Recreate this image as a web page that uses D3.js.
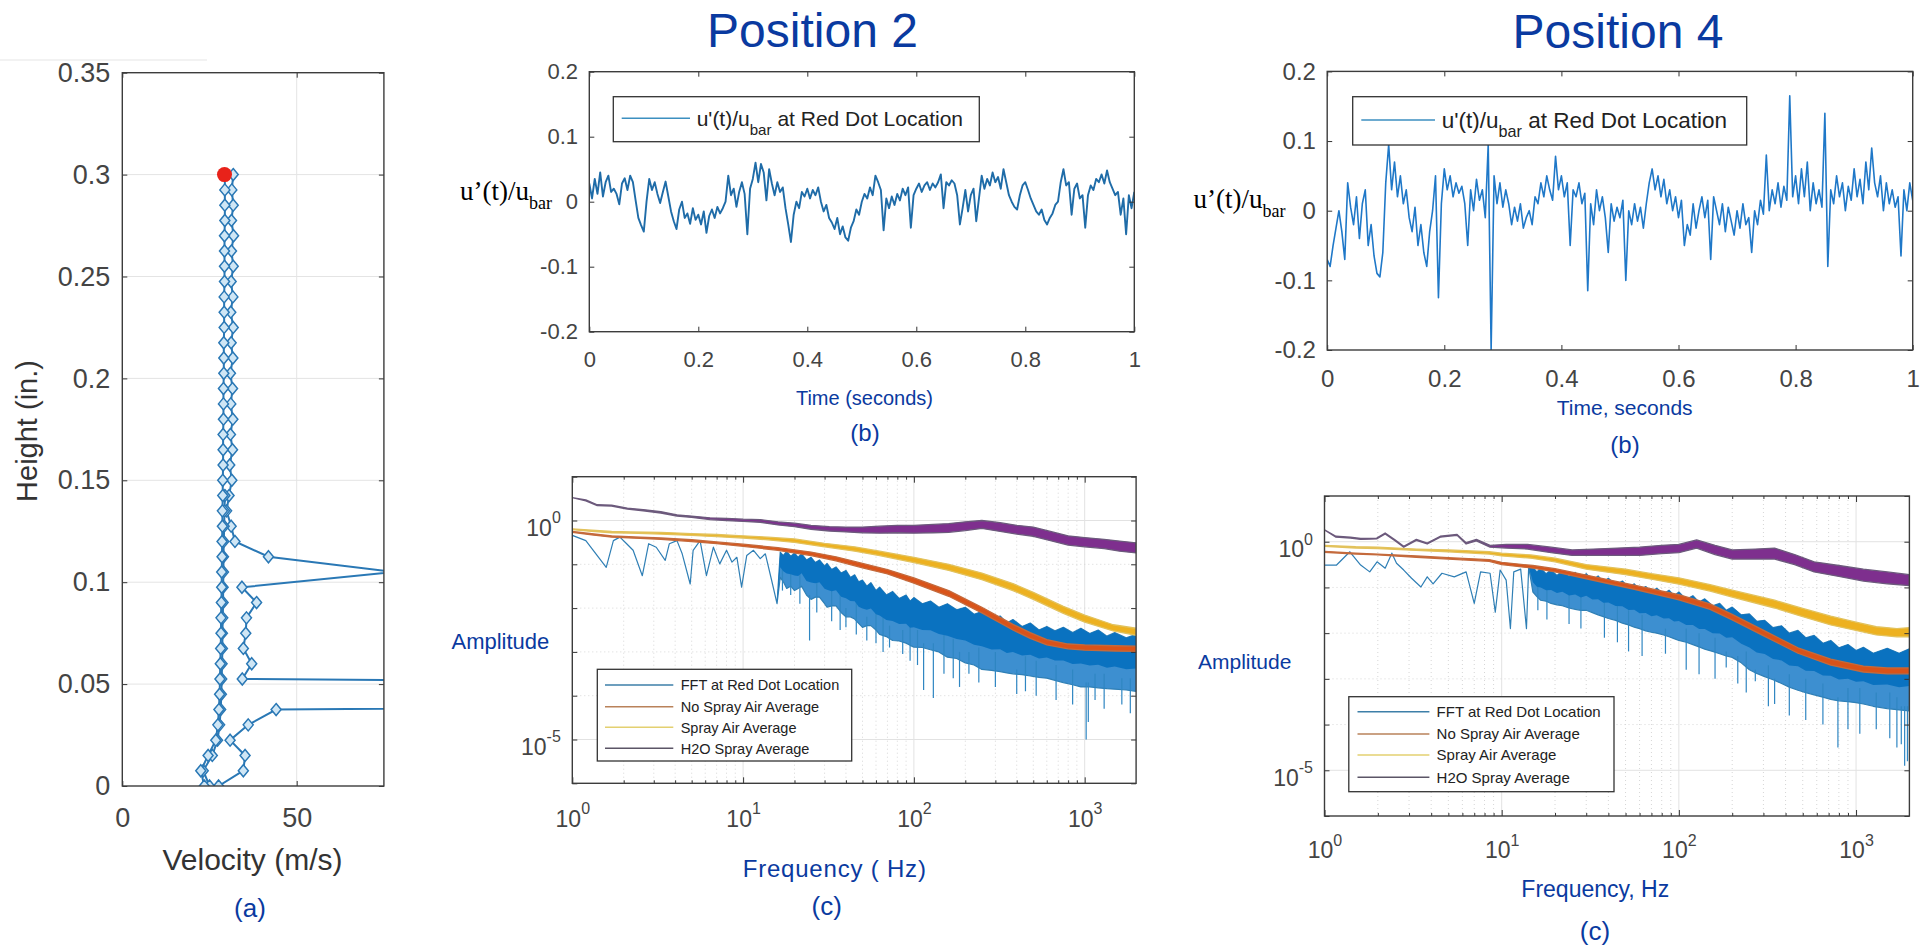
<!DOCTYPE html>
<html>
<head>
<meta charset="utf-8">
<script src="https://d3js.org/d3.v7.min.js"></script>
<style>
  body { margin: 0; background: #fff; }
  svg { display: block; }
</style>
</head>
<body>
<svg id="fig" width="1932" height="950"></svg>
<script>
const svg = d3.select("#fig");
const SANS = "Liberation Sans, Arial, sans-serif";
const SERIF = "Liberation Serif, Times New Roman, serif";
const BLUE_TEXT = "#0a3aa0";
const FRAME = "#3c3c3c";
const TICK_TEXT = "#444";

// ---------- (a) velocity profile ----------
const profileHeights = [0, 0.0075, 0.015, 0.0225, 0.03, 0.0375, 0.045, 0.0525, 0.06, 0.0675,
  0.075, 0.0825, 0.09, 0.0975, 0.105, 0.1125, 0.12, 0.1275, 0.135, 0.1425,
  0.15, 0.1575, 0.165, 0.1725, 0.18, 0.1875, 0.195, 0.2025, 0.21, 0.2175,
  0.225, 0.2325, 0.24, 0.2475, 0.255, 0.2625, 0.27, 0.2775, 0.285, 0.2925, 0.3];
const profileVelA = [23.5, 22.5, 24.6, 26.8, 27.4, 27.7, 27.9, 28.0, 28.1, 28.2,
  28.3, 28.3, 28.4, 28.5, 28.5, 28.6, 28.6, 28.7, 28.7, 28.8,
  28.8, 28.9, 28.9, 28.9, 29.0, 29.0, 29.0, 29.1, 29.1, 29.1,
  29.2, 29.2, 29.2, 29.3, 29.3, 29.3, 29.3, 29.4, 29.4, 29.4, 29.4];
const profileVelB = [27.6, 34.7, 35.2, 30.9, 36.1, 44.1, 600, 34.4, 37.1, 34.7,
  35.4, 35.6, 38.5, 34.3, 78, 41.9, 32.3, 31.2, 29.9, 30.6,
  31.4, 30.8, 31.6, 31.0, 31.7, 31.1, 31.6, 31.0, 31.7, 31.2,
  31.8, 31.1, 31.7, 31.2, 31.8, 31.3, 31.9, 31.3, 31.8, 31.4, 31.8];
const profileVelC = [25.0, 23.2, 25.8, 27.3, 27.9, 28.2, 28.4, 28.5, 28.6, 28.7,
  28.7, 28.8, 28.9, 28.9, 29.0, 29.0, 29.1, 29.2, 29.3, 29.4];
const redDot = [29.3, 0.3];
const aYTicks = [0, 0.05, 0.1, 0.15, 0.2, 0.25, 0.3, 0.35];
const aYLabels = ["0", "0.05", "0.1", "0.15", "0.2", "0.25", "0.3", "0.35"];
const aXTicks = [0, 50];
const aXLabels = ["0", "50"];

// ---------- (b) time signals, one sample every 5 ms ----------
const timeStep = 0.005;
const p2Signal = [
  0.028, 0.005, 0.035, 0.012, 0.045, 0.008, 0.030, 0.040, 0.015, 0.020,
  0.012, -0.004, 0.028, 0.036, 0.018, 0.040, 0.030, 0.002, -0.025, -0.036,
  -0.046, 0.000, 0.035, 0.018, 0.030, 0.012, -0.002, 0.015, 0.031, 0.008,
  -0.015, -0.030, -0.042, -0.012, 0.000, -0.025, -0.018, -0.034, -0.010, -0.028,
  -0.020, -0.035, -0.015, -0.048, -0.022, -0.012, -0.025, -0.008, -0.018, -0.010,
  0.000, 0.040, 0.010, 0.020, -0.008, 0.015, 0.030, 0.012, -0.050, 0.020,
  0.035, 0.060, 0.030, 0.058, 0.045, 0.002, 0.050, 0.028, 0.010, 0.030,
  0.015, 0.022, -0.010, -0.035, -0.062, -0.020, 0.000, -0.010, 0.015, 0.008,
  0.020, 0.005, 0.018, 0.010, 0.022, 0.000, -0.015, -0.005, -0.025, -0.032,
  -0.042, -0.025, -0.050, -0.038, -0.055, -0.060, -0.040, -0.030, -0.012, -0.020,
  0.000, 0.012, 0.005, 0.022, 0.010, 0.040, 0.030, 0.018, -0.044, 0.005,
  -0.010, 0.008, -0.005, 0.012, 0.002, 0.020, 0.010, 0.022, -0.040, 0.010,
  0.020, 0.028, 0.015, 0.025, 0.030, 0.018, 0.028, 0.022, 0.030, 0.042,
  -0.010, 0.030, 0.025, 0.033, 0.028, 0.010, -0.035, -0.010, 0.018, -0.015,
  0.010, 0.020, -0.030, 0.005, 0.040, 0.020, 0.035, 0.025, 0.045, 0.030,
  0.038, 0.020, 0.050, 0.030, 0.010, 0.000, -0.008, -0.012, 0.010, 0.025,
  0.030, 0.018, 0.005, -0.005, -0.015, -0.020, -0.012, -0.028, -0.035, -0.025,
  -0.018, -0.005, 0.000, 0.030, 0.050, 0.025, 0.030, -0.020, 0.020, 0.028,
  0.005, 0.010, -0.040, 0.010, 0.025, 0.018, 0.035, 0.030, 0.042, 0.028,
  0.048, 0.030, 0.020, 0.010, 0.015, -0.020, 0.005, -0.050, 0.010, -0.010,
  0.015];
const p4Signal = [
  -0.070, -0.080, -0.050, -0.025, 0.000, -0.030, -0.070, 0.040, 0.005, -0.020,
  0.020, -0.040, 0.010, 0.030, -0.050, -0.020, -0.065, -0.090, -0.095, -0.060,
  0.040, 0.095, 0.030, 0.070, 0.020, 0.050, 0.010, 0.030, -0.010, -0.030,
  0.005, -0.050, -0.020, -0.060, -0.080, -0.030, 0.000, 0.050, -0.125, 0.010,
  0.060, 0.030, 0.050, 0.020, 0.040, 0.025, 0.035, 0.010, -0.050, 0.030,
  0.000, 0.045, 0.015, 0.030, -0.010, 0.095, -0.200, 0.050, 0.010, 0.040,
  0.005, 0.030, 0.010, -0.020, 0.005, -0.015, 0.010, -0.025, -0.010, 0.000,
  -0.020, 0.020, 0.010, 0.040, 0.020, 0.050, 0.030, 0.015, 0.078, 0.030,
  0.050, 0.020, 0.040, -0.050, 0.030, 0.020, 0.040, 0.010, 0.025, -0.115,
  0.010, -0.020, 0.030, 0.000, 0.020, -0.010, -0.060, 0.010, -0.015, 0.005,
  -0.010, 0.015, -0.100, 0.000, -0.020, 0.010, -0.015, 0.005, -0.025, 0.010,
  0.040, 0.060, 0.030, 0.050, 0.020, 0.045, 0.010, 0.030, 0.000, 0.020,
  -0.010, 0.015, -0.050, -0.020, -0.035, 0.010, -0.025, 0.000, 0.020, -0.010,
  0.015, -0.070, 0.020, 0.000, -0.020, 0.010, -0.030, 0.005, -0.015, -0.035,
  0.000, -0.025, 0.010, -0.020, -0.010, -0.060, 0.000, -0.020, 0.015, -0.005,
  0.080, 0.000, 0.030, 0.010, 0.040, 0.005, 0.035, 0.015, 0.165, 0.020,
  0.050, 0.010, 0.060, 0.020, 0.070, 0.000, 0.040, 0.010, 0.030, 0.005,
  0.140, -0.080, 0.030, 0.010, 0.050, 0.020, 0.040, 0.000, 0.035, 0.015,
  0.060, 0.020, 0.045, 0.010, 0.070, 0.030, 0.090, 0.040, 0.020, 0.050,
  0.000, 0.040, 0.010, 0.030, 0.005, 0.020, -0.065, 0.030, 0.000, 0.040,
  0.015];
const tTicks = [0, 0.2, 0.4, 0.6, 0.8, 1];
const tLabels = ["0", "0.2", "0.4", "0.6", "0.8", "1"];
const uTicks = [-0.2, -0.1, 0, 0.1, 0.2];
const uLabels = ["-0.2", "-0.1", "0", "0.1", "0.2"];

// ---------- (c) spectra: [frequency Hz, low log10(A), high log10(A)] ----------
const spectrumNames = ["FFT at Red Dot Location", "No Spray Air Average", "Spray Air Average", "H2O Spray Average"];
const spectrumFill = ["#0a72c0", "#d95319", "#edb120", "#7e2f8e"];
const spectrumEdge = ["#2f7fb5", "#c46a3c", "#e2c25c", "#6c5a7c"];
const legendLine = ["#3d7fa8", "#b9825a", "#e3d070", "#5b5566"];

const p2Fft = [
  [1, -0.34, -0.34], [1.2, -0.46, -0.46], [1.4, -0.8, -0.8], [1.58, -1.07, -1.07], [1.74, -0.46, -0.46],
  [1.9, -0.38, -0.38], [2.08, -0.53, -0.53], [2.27, -0.68, -0.68], [2.57, -1.26, -1.26], [2.8, -0.53, -0.53],
  [3.1, -0.61, -0.61], [3.5, -0.91, -0.91], [3.7, -0.53, -0.53], [4.1, -0.46, -0.46], [4.4, -0.76, -0.76],
  [4.9, -1.45, -1.45], [5.1, -0.68, -0.68], [5.6, -0.46, -0.46], [6.1, -1.26, -1.26], [6.7, -0.61, -0.61],
  [7.3, -0.99, -0.99], [8, -0.68, -0.68], [8.6, -0.95, -0.95], [9.2, -0.84, -0.84], [9.8, -1.52, -1.52],
  [10.5, -0.8, -0.8], [11.5, -0.68, -0.68], [12.6, -0.87, -0.87], [13.5, -0.76, -0.76], [14.7, -1.37, -1.37],
  [15.8, -1.9, -1.9], [16.5, -1.3, -0.72], [17.2, -1.4, -0.80], [18, -1.55, -0.70], [19, -1.5, -0.82],
  [20, -1.6, -0.74], [21, -1.55, -0.84], [22, -1.5, -0.76], [23.5, -1.7, -0.90], [25, -1.8, -0.84],
  [26.5, -1.75, -0.96], [28, -1.75, -0.90], [30, -1.9, -1.04], [31, -1.98, -0.98], [33, -1.95, -1.12],
  [35, -1.95, -1.06], [37.5, -2.1, -1.20], [40, -2.2, -1.14], [42.5, -2.2, -1.30], [45, -2.25, -1.24],
  [47.5, -2.35, -1.40], [50, -2.44, -1.36], [53, -2.4, -1.50], [56, -2.4, -1.42], [60, -2.5, -1.60],
  [63, -2.6, -1.52], [69, -2.65, -1.70], [75, -2.74, -1.62], [82, -2.75, -1.78], [90, -2.8, -1.70],
  [95, -2.85, -1.84], [100, -2.89, -1.76], [112, -2.9, -1.90], [125, -2.95, -1.84], [140, -3.0, -1.98],
  [157, -3.12, -1.90], [178, -3.15, -2.04], [200, -3.25, -1.98], [225, -3.3, -2.14], [250, -3.4, -2.08],
  [285, -3.42, -2.24], [320, -3.45, -2.18], [350, -3.48, -2.34], [380, -3.5, -2.26], [430, -3.52, -2.42],
  [480, -3.55, -2.34], [540, -3.58, -2.50], [600, -3.6, -2.42], [670, -3.65, -2.52], [750, -3.7, -2.44],
  [850, -3.75, -2.56], [950, -3.8, -2.46], [1070, -3.8, -2.58], [1200, -3.82, -2.50], [1350, -3.84, -2.64],
  [1500, -3.85, -2.56], [1750, -3.87, -2.68], [2000, -3.9, -2.60]];
const p2NoSpray = [
  [1, -0.27, -0.25], [1.3, -0.33, -0.30], [1.7, -0.38, -0.35], [2.5, -0.41, -0.38], [3.3, -0.43, -0.40],
  [5, -0.48, -0.44], [7, -0.53, -0.49], [10, -0.59, -0.54], [16, -0.68, -0.62], [25, -0.80, -0.72],
  [35, -0.92, -0.83], [50, -1.08, -0.98], [70, -1.22, -1.12], [100, -1.43, -1.31], [160, -1.73, -1.60],
  [250, -2.11, -1.98], [380, -2.50, -2.37], [480, -2.69, -2.56], [600, -2.84, -2.72], [800, -2.93, -2.82],
  [1000, -2.96, -2.84], [1500, -2.98, -2.86], [2000, -2.99, -2.87]];
const p2Spray = [
  [1, -0.21, -0.19], [1.3, -0.25, -0.22], [1.7, -0.28, -0.25], [2.2, -0.29, -0.26], [3.3, -0.31, -0.27],
  [5, -0.34, -0.30], [7, -0.37, -0.32], [10, -0.40, -0.35], [14, -0.44, -0.38], [20, -0.50, -0.42],
  [30, -0.60, -0.52], [45, -0.70, -0.60], [63, -0.80, -0.70], [100, -0.96, -0.84], [160, -1.14, -1.00],
  [250, -1.35, -1.20], [380, -1.60, -1.44], [500, -1.80, -1.64], [750, -2.12, -1.96], [1000, -2.32, -2.16],
  [1470, -2.52, -2.38], [2000, -2.62, -2.46]];
const p2H2o = [
  [1, 0.52, 0.52], [1.2, 0.45, 0.47], [1.4, 0.34, 0.36], [1.7, 0.33, 0.35], [2.1, 0.26, 0.28],
  [2.6, 0.22, 0.25], [3.3, 0.17, 0.20], [4.1, 0.10, 0.13], [5, 0.07, 0.10], [6.4, 0.02, 0.06],
  [8, 0.00, 0.05], [10, -0.02, 0.03], [12.6, -0.04, 0.02], [16, -0.10, -0.03], [20, -0.14, -0.06],
  [25, -0.20, -0.11], [32, -0.24, -0.14], [40, -0.26, -0.15], [50, -0.28, -0.15], [63, -0.29, -0.13],
  [80, -0.28, -0.11], [100, -0.29, -0.11], [130, -0.28, -0.09], [160, -0.27, -0.07], [200, -0.23, -0.03],
  [250, -0.18, 0.00], [320, -0.25, -0.05], [400, -0.31, -0.11], [500, -0.36, -0.15], [630, -0.46, -0.25],
  [800, -0.56, -0.35], [1000, -0.60, -0.39], [1300, -0.64, -0.43], [1600, -0.70, -0.47], [2000, -0.74, -0.51]];
// downward spikes of the FFT: [frequency, from, to]
const p2Spikes = [[17, -1.0, -1.6], [19, -1.1, -1.7], [21.5, -1.2, -1.9], [24.5, -1.7, -2.74], [27, -1.3, -2.1],
  [33, -1.5, -2.3], [37, -1.6, -2.5], [40, -2.0, -2.44], [46, -1.8, -2.6], [53, -2.2, -2.74], [60, -2.0, -2.8],
  [66, -2.1, -3.0], [72, -2.4, -2.9], [86, -2.5, -3.05], [95, -2.4, -3.2], [105, -2.5, -3.3], [114, -2.8, -3.87],
  [130, -2.8, -4.05], [150, -2.6, -3.5], [170, -2.7, -3.6], [185, -3.0, -3.8], [210, -3.0, -3.5], [240, -2.9, -3.7],
  [300, -3.0, -3.8], [400, -3.4, -3.96], [450, -3.1, -3.9], [520, -3.2, -4.0], [680, -3.3, -4.1], [850, -3.4, -4.2],
  [1020, -3.7, -5.0], [1050, -3.7, -4.6], [1150, -3.5, -4.1], [1300, -3.5, -4.3], [1650, -3.6, -4.2], [1850, -3.6, -4.4]];

const p4Fft = [
  [1, -0.51, -0.51], [1.17, -0.51, -0.51], [1.39, -0.22, -0.22], [1.6, -0.51, -0.51], [1.8, -0.66, -0.66],
  [1.98, -0.44, -0.44], [2.2, -0.58, -0.58], [2.4, -0.25, -0.25], [2.55, -0.47, -0.47], [2.8, -0.62, -0.62],
  [3.1, -0.8, -0.8], [3.5, -0.99, -0.99], [3.8, -0.77, -0.77], [4.1, -0.92, -0.92], [4.6, -0.69, -0.69],
  [5.4, -0.77, -0.77], [6.3, -0.66, -0.66], [7.0, -1.35, -1.35], [7.6, -0.66, -0.66], [8.6, -0.69, -0.69],
  [9.2, -1.54, -1.54], [9.8, -0.62, -0.62], [10.6, -0.84, -0.84], [11.2, -1.9, -1.9], [11.7, -0.66, -0.66],
  [12.8, -0.6, -0.6], [13.8, -1.9, -1.9], [14.2, -0.55, -0.55], [15, -1.1, -0.56], [15.8, -1.2, -0.66],
  [16.6, -1.28, -0.58], [17.8, -1.3, -0.70], [19, -1.35, -0.62], [20.5, -1.38, -0.74], [22, -1.4, -0.64],
  [24, -1.45, -0.76], [26, -1.48, -0.67], [28, -1.5, -0.80], [30, -1.5, -0.70], [32.5, -1.55, -0.84],
  [35, -1.6, -0.75], [37.5, -1.64, -0.88], [40, -1.68, -0.80], [44, -1.72, -0.94], [48, -1.78, -0.86],
  [52, -1.82, -1.00], [56, -1.87, -0.92], [60, -1.9, -1.06], [65, -1.95, -0.98], [70, -1.98, -1.10],
  [75, -2.0, -1.02], [82, -2.04, -1.14], [88, -2.08, -1.06], [94, -2.12, -1.18], [100, -2.16, -1.10],
  [110, -2.2, -1.26], [120, -2.25, -1.18], [130, -2.3, -1.32], [140, -2.35, -1.25], [155, -2.4, -1.40],
  [170, -2.45, -1.35], [185, -2.5, -1.50], [200, -2.53, -1.43], [225, -2.65, -1.60], [250, -2.8, -1.58],
  [275, -2.88, -1.74], [305, -2.95, -1.72], [340, -3.02, -1.88], [380, -3.1, -1.84], [420, -3.18, -2.00],
  [470, -3.25, -1.94], [520, -3.3, -2.10], [580, -3.35, -2.05], [650, -3.4, -2.22], [720, -3.45, -2.16],
  [800, -3.48, -2.32], [900, -3.5, -2.25], [1000, -3.52, -2.38], [1100, -3.55, -2.31], [1250, -3.6, -2.44],
  [1500, -3.65, -2.33], [1750, -3.68, -2.44], [2000, -3.7, -2.34]];
const p4NoSpray = [
  [1, -0.23, -0.21], [1.5, -0.27, -0.25], [2, -0.29, -0.27], [3.3, -0.34, -0.31], [5, -0.38, -0.35],
  [8.5, -0.43, -0.39], [10, -0.50, -0.45], [15, -0.58, -0.52], [20, -0.66, -0.59], [30, -0.81, -0.73],
  [56, -1.04, -0.95], [100, -1.27, -1.16], [150, -1.48, -1.36], [200, -1.71, -1.59], [305, -2.07, -1.95],
  [470, -2.44, -2.32], [720, -2.70, -2.57], [1100, -2.85, -2.72], [1500, -2.89, -2.76], [2000, -2.89, -2.76]];
const p4Spray = [
  [1, -0.10, -0.08], [1.5, -0.14, -0.11], [2, -0.15, -0.12], [3.3, -0.19, -0.16], [5, -0.22, -0.18],
  [8.5, -0.27, -0.22], [10, -0.31, -0.25], [14.6, -0.36, -0.29], [20, -0.44, -0.36], [30, -0.60, -0.50],
  [50, -0.72, -0.60], [70, -0.82, -0.70], [100, -0.93, -0.79], [150, -1.08, -0.94], [200, -1.21, -1.06],
  [347, -1.45, -1.28], [500, -1.64, -1.46], [720, -1.82, -1.63], [1000, -1.94, -1.76], [1300, -2.04, -1.86],
  [1700, -2.08, -1.90], [2000, -2.08, -1.88]];
const p4H2o = [
  [1, 0.26, 0.26], [1.16, 0.10, 0.12], [1.4, 0.08, 0.10], [1.6, 0.05, 0.07], [1.97, 0.06, 0.08],
  [2.2, 0.17, 0.19], [2.5, 0.02, 0.04], [2.8, -0.12, -0.10], [3.3, 0.03, 0.05], [3.8, -0.05, -0.03],
  [4.5, 0.10, 0.12], [5.6, 0.14, 0.16], [6.3, -0.05, -0.02], [7.2, 0.02, 0.05], [8.6, -0.12, -0.08],
  [10.6, -0.14, -0.06], [14, -0.16, -0.06], [19, -0.24, -0.12], [25, -0.30, -0.18], [33, -0.30, -0.16],
  [45, -0.30, -0.14], [60, -0.30, -0.12], [80, -0.26, -0.08], [100, -0.24, -0.06], [126, -0.14, 0.04],
  [160, -0.28, -0.08], [200, -0.38, -0.18], [270, -0.38, -0.16], [347, -0.38, -0.14], [450, -0.50, -0.28],
  [580, -0.66, -0.44], [800, -0.76, -0.52], [1100, -0.86, -0.60], [1500, -0.92, -0.66], [2000, -0.96, -0.72]];
const p4Spikes = [[16, -0.9, -1.5], [18, -1.0, -1.7], [24, -1.1, -1.8], [28, -1.2, -1.9], [38, -1.3, -2.1],
  [45, -1.4, -2.2], [52, -1.5, -2.4], [62, -1.6, -2.5], [84, -1.9, -2.45], [110, -1.9, -2.8], [130, -2.0, -2.9],
  [160, -2.1, -3.0], [185, -2.4, -2.75], [215, -2.5, -3.1], [240, -2.4, -3.3], [270, -2.8, -3.05],
  [320, -2.7, -3.6], [347, -3.0, -3.55], [420, -2.9, -3.8], [520, -3.0, -3.9], [650, -3.1, -4.0],
  [790, -3.4, -4.5], [900, -3.2, -4.1], [1050, -3.2, -4.2], [1300, -3.3, -4.1], [1550, -3.3, -4.3],
  [1700, -3.4, -4.5], [1800, -3.6, -4.43], [1880, -3.6, -4.9], [1950, -3.6, -4.8]];

const freqDecades = [1, 10, 100, 1000];
const ampDecades = [1e-6, 1e-5, 1e-4, 1e-3, 1e-2, 1e-1, 1e0, 1e1];
const ampLabelled = [1e-5, 1e0];

// ---------- helpers ----------
function styleAxis(sel, size, family) {
  sel.attr("font-size", size).attr("font-family", family || SANS).attr("color", "#333");
  sel.select(".domain").remove();
  sel.selectAll(".tick text").attr("fill", TICK_TEXT);
  sel.selectAll(".tick line").attr("stroke-width", 1);
}

function addText(x, y, str, o) {
  o = o || {};
  return svg.append("text")
    .attr("x", x).attr("y", y)
    .attr("font-family", o.family || SANS)
    .attr("font-size", o.size || 20)
    .attr("fill", o.color || BLUE_TEXT)
    .attr("text-anchor", o.anchor || "start")
    .text(str);
}

function frame(g, x0, y0, x1, y1) {
  g.append("rect").attr("x", x0).attr("y", y0).attr("width", x1 - x0).attr("height", y1 - y0)
    .attr("fill", "none").attr("stroke", FRAME).attr("stroke-width", 1.4);
}

function uBarLabel(x, y, size, subSize, drop) {
  const t = svg.append("text").attr("x", x).attr("y", y)
    .attr("font-family", SERIF).attr("font-size", size).attr("fill", "#000");
  t.append("tspan").text("u\u2019(t)/u");
  t.append("tspan").attr("dy", drop).attr("font-size", subSize).text("bar");
}

// ---------- (a) ----------
function drawProfile() {
  const x = d3.scaleLinear().domain([0, 75]).range([122.3, 383.9]);
  const y = d3.scaleLinear().domain([0, 0.35]).range([786, 72.7]);
  const g = svg.append("g");

  svg.append("line").attr("x1", 0).attr("x2", 207).attr("y1", 60).attr("y2", 60)
    .attr("stroke", "#e6e6e6").attr("stroke-width", 1.2);

  g.append("clipPath").attr("id", "clip-a").append("rect")
    .attr("x", x(0)).attr("y", y(0.35)).attr("width", x(75) - x(0)).attr("height", y(0) - y(0.35));

  g.selectAll(".hgrid").data(aYTicks.slice(1, -1)).join("line")
    .attr("x1", x(0)).attr("x2", x(75)).attr("y1", d => y(d)).attr("y2", d => y(d))
    .attr("stroke", "#e4e4e4").attr("stroke-width", 1);
  g.append("line").attr("x1", x(50)).attr("x2", x(50)).attr("y1", y(0)).attr("y2", y(0.35))
    .attr("stroke", "#e4e4e4").attr("stroke-width", 1);

  const plot = g.append("g").attr("clip-path", "url(#clip-a)");
  const series = [
    profileVelB.map((v, i) => [v, profileHeights[i]]),
    profileVelC.map((v, i) => [v, profileHeights[i]]),
    profileVelA.map((v, i) => [v, profileHeights[i]])
  ];
  const line = d3.line().x(d => x(d[0])).y(d => y(d[1]));
  const diamond = "M0,-6L5,0L0,6L-5,0Z";
  series.forEach(pts => {
    plot.append("path").datum(pts).attr("d", line)
      .attr("fill", "none").attr("stroke", "#2a78b5").attr("stroke-width", 2);
    plot.selectAll(null).data(pts).join("path")
      .attr("d", diamond)
      .attr("transform", d => `translate(${x(d[0])},${y(d[1])})`)
      .attr("fill", "#cfe6f5").attr("stroke", "#2a78b5").attr("stroke-width", 1.5);
  });
  plot.append("circle").attr("cx", x(redDot[0])).attr("cy", y(redDot[1])).attr("r", 7.5)
    .attr("fill", "#e8221a");

  const fmtY = d => aYLabels[aYTicks.indexOf(d)];
  const fmtX = d => aXLabels[aXTicks.indexOf(d)];
  g.append("g").attr("transform", `translate(${x(0)},0)`)
    .call(d3.axisLeft(y).tickValues(aYTicks).tickFormat(fmtY).tickSize(-5).tickPadding(12))
    .call(s => styleAxis(s, 27));
  g.append("g").attr("transform", `translate(${x(75)},0)`)
    .call(d3.axisRight(y).tickValues(aYTicks).tickFormat("").tickSize(-5))
    .call(s => styleAxis(s, 27));
  g.append("g").attr("transform", `translate(0,${y(0)})`)
    .call(d3.axisBottom(x).tickValues(aXTicks).tickFormat(fmtX).tickSize(-5).tickPadding(21.5))
    .call(s => styleAxis(s, 27));
  g.append("g").attr("transform", `translate(0,${y(0.35)})`)
    .call(d3.axisTop(x).tickValues(aXTicks).tickFormat("").tickSize(-5))
    .call(s => styleAxis(s, 27));
  frame(g, x(0), y(0.35), x(75), y(0));

  addText(252.5, 870, "Velocity (m/s)", { size: 30, color: "#333", anchor: "middle" });
  addText(37, 431, "Height (in.)", { size: 29, color: "#333", anchor: "middle" })
    .attr("transform", "rotate(-90,37,431)");
  addText(250, 917, "(a)", { size: 26, anchor: "middle" });
}

// ---------- (b) ----------
function drawTimePanel(o) {
  const x = d3.scaleLinear().domain([0, 1]).range([o.left, o.right]);
  const y = d3.scaleLinear().domain([-0.2, 0.2]).range([o.bottom, o.top]);
  const g = svg.append("g");
  const cid = "clip-" + o.id;
  g.append("clipPath").attr("id", cid).append("rect")
    .attr("x", o.left).attr("y", o.top).attr("width", o.right - o.left).attr("height", o.bottom - o.top);

  const line = d3.line().x((d, i) => x(i * timeStep)).y(d => y(d));
  g.append("path").datum(o.values).attr("clip-path", `url(#${cid})`).attr("d", line)
    .attr("fill", "none").attr("stroke", o.color).attr("stroke-width", o.width).attr("stroke-linejoin", "round");

  const fmtT = d => tLabels[tTicks.indexOf(d)];
  const fmtU = d => uLabels[uTicks.indexOf(d)];
  g.append("g").attr("transform", `translate(${o.left},0)`)
    .call(d3.axisLeft(y).tickValues(uTicks).tickFormat(fmtU).tickSize(-5).tickPadding(11.3))
    .call(s => styleAxis(s, o.tickSize));
  g.append("g").attr("transform", `translate(${o.right},0)`)
    .call(d3.axisRight(y).tickValues(uTicks).tickFormat("").tickSize(-5))
    .call(s => styleAxis(s, o.tickSize));
  g.append("g").attr("transform", `translate(0,${o.bottom})`)
    .call(d3.axisBottom(x).tickValues(tTicks).tickFormat(fmtT).tickSize(-5).tickPadding(o.xPad))
    .call(s => styleAxis(s, o.tickSize));
  g.append("g").attr("transform", `translate(0,${o.top})`)
    .call(d3.axisTop(x).tickValues(tTicks).tickFormat("").tickSize(-5))
    .call(s => styleAxis(s, o.tickSize));
  frame(g, o.left, o.top, o.right, o.bottom);

  // legend
  const L = o.legend;
  g.append("rect").attr("x", L.x0).attr("y", L.y0).attr("width", L.x1 - L.x0).attr("height", L.y1 - L.y0)
    .attr("fill", "#fff").attr("stroke", "#333").attr("stroke-width", 1.3);
  g.append("line").attr("x1", L.s0).attr("x2", L.s1).attr("y1", L.sy).attr("y2", L.sy)
    .attr("stroke", "#3c8fc0").attr("stroke-width", 1.6);
  const t = g.append("text").attr("x", L.tx).attr("y", L.ty)
    .attr("font-family", SANS).attr("font-size", L.size).attr("fill", "#222");
  t.append("tspan").text("u'(t)/u");
  t.append("tspan").attr("dy", 9).attr("font-size", L.size * 0.72).text("bar");
  t.append("tspan").attr("dy", -9).text(" at Red Dot Location");
}

// ---------- (c) ----------
function drawSpectrumPanel(o) {
  const x = d3.scaleLog().domain([1, 2000]).range([o.left, o.right]);
  const y = d3.scaleLog().domain([1e-6, 10]).range([o.bottom, o.top]);
  const g = svg.append("g");
  const cid = "clip-" + o.id;
  g.append("clipPath").attr("id", cid).append("rect")
    .attr("x", o.left).attr("y", o.top).attr("width", o.right - o.left).attr("height", o.bottom - o.top);

  const minorF = x.ticks().filter(f => !freqDecades.includes(f) && f < 2000);
  g.selectAll(".vminor").data(minorF).join("line")
    .attr("x1", d => x(d)).attr("x2", d => x(d)).attr("y1", o.top).attr("y2", o.bottom)
    .attr("stroke", "#d6d6d6").attr("stroke-width", 1).attr("stroke-dasharray", "1,3");
  g.selectAll(".vmajor").data(freqDecades.slice(1)).join("line")
    .attr("x1", d => x(d)).attr("x2", d => x(d)).attr("y1", o.top).attr("y2", o.bottom)
    .attr("stroke", "#e2e2e2").attr("stroke-width", 1);
  g.selectAll(".hgrid").data(ampDecades.slice(1, -1)).join("line")
    .attr("x1", o.left).attr("x2", o.right).attr("y1", d => y(d)).attr("y2", d => y(d))
    .attr("stroke", d => ampLabelled.includes(d) ? "#e2e2e2" : "#d6d6d6")
    .attr("stroke-width", 1)
    .attr("stroke-dasharray", d => ampLabelled.includes(d) ? null : "1,3");

  const plot = g.append("g").attr("clip-path", `url(#${cid})`);
  const yExp = e => y(Math.pow(10, e));
  const area = d3.area().x(d => x(d[0])).y0(d => yExp(d[1])).y1(d => yExp(d[2]));
  // the dense core of a noisy band sits near its upper edge
  const coreArea = d3.area().x(d => x(d[0]))
    .y0(d => yExp(d[2] + 0.6 * (d[1] - d[2]))).y1(d => yExp(d[2]));
  o.series.forEach((rows, k) => {
    if (k === 0) {
      plot.append("path").datum(rows).attr("d", area)
        .attr("fill", "#3d8fd0").attr("stroke", spectrumEdge[0])
        .attr("stroke-width", 1.2).attr("stroke-linejoin", "round");
      plot.selectAll(null).data(o.spikes).join("line")
        .attr("x1", d => x(d[0])).attr("x2", d => x(d[0]))
        .attr("y1", d => yExp(d[1])).attr("y2", d => yExp(d[2]))
        .attr("stroke", "#2f86c2").attr("stroke-width", 1.2);
      plot.append("path").datum(rows).attr("d", coreArea)
        .attr("fill", spectrumFill[0]).attr("stroke", "none");
    } else {
      plot.append("path").datum(rows).attr("d", area)
        .attr("fill", spectrumFill[k]).attr("stroke", spectrumEdge[k])
        .attr("stroke-width", 1.3).attr("stroke-linejoin", "round");
    }
  });

  const supFormat = (sel, labelled, dyBase) => {
    sel.selectAll(".tick text").each(function (d) {
      const t = d3.select(this);
      t.text("");
      if (!labelled.includes(d)) return;
      t.attr("y", +t.attr("y") + dyBase);
      t.append("tspan").text("10");
      t.append("tspan").attr("dy", -12.5).attr("font-size", 16).text(Math.round(Math.log10(d)));
    });
  };
  g.append("g").attr("transform", `translate(${o.left},0)`)
    .call(d3.axisLeft(y).tickValues(ampDecades).tickSize(-5).tickPadding(11.5))
    .call(s => { styleAxis(s, 23); supFormat(s, ampLabelled, 7.5); });
  g.append("g").attr("transform", `translate(${o.right},0)`)
    .call(d3.axisRight(y).tickValues(ampDecades).tickFormat("").tickSize(-5))
    .call(s => styleAxis(s, 23));
  g.append("g").attr("transform", `translate(0,${o.bottom})`)
    .call(d3.axisBottom(x).tickValues(freqDecades).tickSize(-6).tickPadding(o.xPad))
    .call(s => { styleAxis(s, 23); supFormat(s, freqDecades, 0); });
  g.append("g").attr("transform", `translate(0,${o.bottom})`)
    .call(d3.axisBottom(x).tickValues(minorF).tickFormat("").tickSize(-3))
    .call(s => styleAxis(s, 23));
  g.append("g").attr("transform", `translate(0,${o.top})`)
    .call(d3.axisTop(x).tickValues(freqDecades).tickFormat("").tickSize(-6))
    .call(s => styleAxis(s, 23));
  g.append("g").attr("transform", `translate(0,${o.top})`)
    .call(d3.axisTop(x).tickValues(minorF).tickFormat("").tickSize(-3))
    .call(s => styleAxis(s, 23));
  frame(g, o.left, o.top, o.right, o.bottom);

  // legend
  const L = o.legend;
  g.append("rect").attr("x", L.x0).attr("y", L.y0).attr("width", L.x1 - L.x0).attr("height", L.y1 - L.y0)
    .attr("fill", "#fff").attr("stroke", "#333").attr("stroke-width", 1.3);
  spectrumNames.forEach((name, k) => {
    g.append("line").attr("x1", L.s0).attr("x2", L.s1).attr("y1", L.rows[k]).attr("y2", L.rows[k])
      .attr("stroke", legendLine[k]).attr("stroke-width", 1.5);
    g.append("text").attr("x", L.tx).attr("y", L.rows[k] + 5.3)
      .attr("font-family", SANS).attr("font-size", L.size).attr("fill", "#222").text(name);
  });
}

drawProfile();

// Position 2
addText(812.5, 46.7, "Position 2", { size: 48, anchor: "middle" });
drawTimePanel({
  id: "p2b", values: p2Signal, color: "#1f6ca8", width: 1.9,
  left: 589.3, right: 1134.3, top: 71.7, bottom: 331.7, tickSize: 22, xPad: 19.7,
  legend: { x0: 613.3, x1: 979.3, y0: 96.7, y1: 141.7, s0: 621.7, s1: 690, sy: 118.3, tx: 696.7, ty: 126, size: 21 }
});
uBarLabel(460, 200, 27, 18, 9);
addText(864.5, 405, "Time (seconds)", { size: 20, anchor: "middle" });
addText(865, 441, "(b)", { size: 24, anchor: "middle" });

drawSpectrumPanel({
  id: "p2c", series: [p2Fft, p2NoSpray, p2Spray, p2H2o], spikes: p2Spikes,
  left: 572.3, right: 1136.1, top: 476.7, bottom: 783.3, xPad: 27,
  legend: { x0: 597.3, x1: 851.7, y0: 669.3, y1: 761, s0: 605, s1: 673.3, tx: 680.7, size: 14.5,
    rows: [685, 706.7, 727.3, 748.3] }
});
addText(549.3, 649, "Amplitude", { size: 22, anchor: "end" });
addText(834.7, 877, "Frequency ( Hz)", { size: 24, anchor: "middle" }).attr("letter-spacing", 0.8);
addText(826.7, 915, "(c)", { size: 26, anchor: "middle" });

// Position 4
addText(1618, 48.3, "Position 4", { size: 48, anchor: "middle" });
drawTimePanel({
  id: "p4b", values: p4Signal, color: "#1f78c8", width: 1.6,
  left: 1327.2, right: 1912.7, top: 71.4, bottom: 350, tickSize: 24, xPad: 19.7,
  legend: { x0: 1352.7, x1: 1746.7, y0: 96.7, y1: 145, s0: 1361.3, s1: 1435, sy: 120, tx: 1441.7, ty: 128, size: 22.5 }
});
uBarLabel(1193.5, 208, 27, 18, 9);
addText(1624.7, 415, "Time, seconds", { size: 21, anchor: "middle" });
addText(1625, 453, "(b)", { size: 24, anchor: "middle" });

drawSpectrumPanel({
  id: "p4c", series: [p4Fft, p4NoSpray, p4Spray, p4H2o], spikes: p4Spikes,
  left: 1324.5, right: 1909.4, top: 496, bottom: 816, xPad: 25.7,
  legend: { x0: 1348.8, x1: 1614, y0: 696.7, y1: 791.7, s0: 1357.5, s1: 1429.4, tx: 1436.6, size: 15,
    rows: [711.7, 734, 755, 777.3] }
});
addText(1198, 669.3, "Amplitude", { size: 21 });
addText(1595.3, 897.3, "Frequency, Hz", { size: 23, anchor: "middle" });
addText(1595, 940, "(c)", { size: 26, anchor: "middle" });
</script>
</body>
</html>
